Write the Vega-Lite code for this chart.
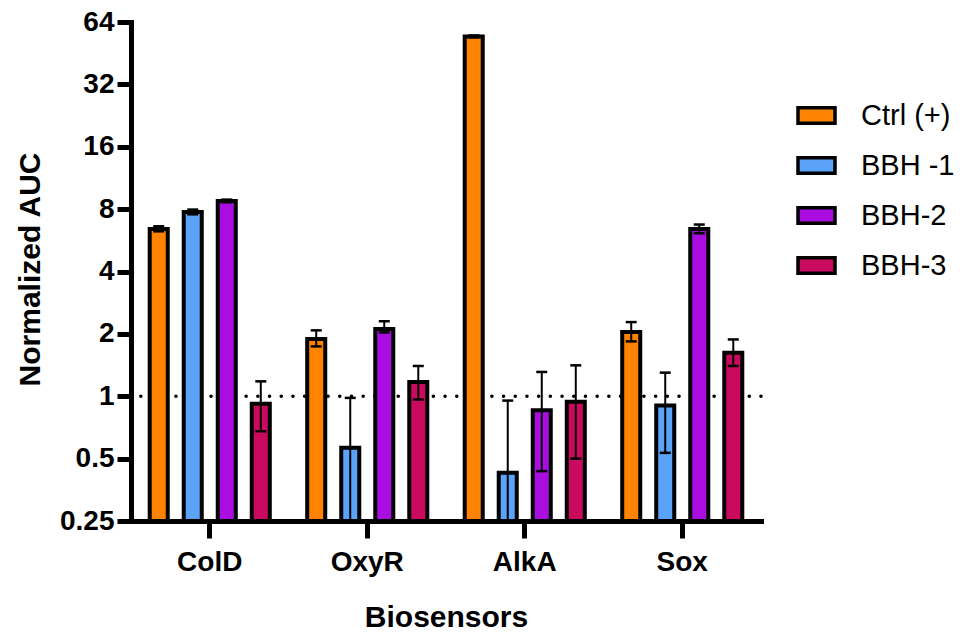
{
  "$schema": "https://vega.github.io/schema/vega-lite/v6.json",
  "width": 630,
  "height": 499,
  "autosize": "none",
  "padding": {"left": 131, "top": 22, "right": 213, "bottom": 113},
  "background": "white",
  "config": {"view": {"stroke": null}, "font": "Liberation Sans"},
  "datasets": {
    "auc": [
      {"sensor": "ColD", "group": "Ctrl (+)", "value": 6.42, "lo": 6.25, "hi": 6.61},
      {"sensor": "ColD", "group": "BBH -1", "value": 7.75, "lo": 7.55, "hi": 7.96},
      {"sensor": "ColD", "group": "BBH-2", "value": 8.76, "lo": 8.63, "hi": 8.89},
      {"sensor": "ColD", "group": "BBH-3", "value": 0.919, "lo": 0.678, "hi": 1.18},
      {"sensor": "OxyR", "group": "Ctrl (+)", "value": 1.89, "lo": 1.74, "hi": 2.08},
      {"sensor": "OxyR", "group": "BBH -1", "value": 0.564, "lo": 0.25, "hi": 0.982},
      {"sensor": "OxyR", "group": "BBH-2", "value": 2.11, "lo": 2.03, "hi": 2.30},
      {"sensor": "OxyR", "group": "BBH-3", "value": 1.17, "lo": 0.964, "hi": 1.40},
      {"sensor": "AlkA", "group": "Ctrl (+)", "value": 54.5, "lo": 54.0, "hi": 55.1},
      {"sensor": "AlkA", "group": "BBH -1", "value": 0.427, "lo": 0.25, "hi": 0.953},
      {"sensor": "AlkA", "group": "BBH-2", "value": 0.856, "lo": 0.435, "hi": 1.31},
      {"sensor": "AlkA", "group": "BBH-3", "value": 0.94, "lo": 0.50, "hi": 1.41},
      {"sensor": "Sox", "group": "Ctrl (+)", "value": 2.04, "lo": 1.84, "hi": 2.28},
      {"sensor": "Sox", "group": "BBH -1", "value": 0.902, "lo": 0.533, "hi": 1.30},
      {"sensor": "Sox", "group": "BBH-2", "value": 6.42, "lo": 6.12, "hi": 6.74},
      {"sensor": "Sox", "group": "BBH-3", "value": 1.62, "lo": 1.40, "hi": 1.88}
    ]
  },
  "layer": [
    {
      "data": {"values": [{}]},
      "mark": {"type": "rule", "strokeDash": [0.1, 11.6], "strokeCap": "round", "strokeWidth": 3.5, "color": "black"},
      "encoding": {
        "y": {"datum": 1, "type": "quantitative", "title": "Normalized AUC"}
      }
    },
    {
      "data": {"name": "auc"},
      "mark": {"type": "bar", "stroke": "black", "strokeWidth": 4},
      "encoding": {
        "x": {
          "field": "sensor", "type": "nominal", "sort": ["ColD", "OxyR", "AlkA", "Sox"],
          "title": "Biosensors",
          "scale": {"paddingInner": 0.136, "paddingOuter": 0.068},
          "axis": {
            "domainWidth": 5, "domainColor": "black", "domainCap": "square",
            "tickColor": "black", "tickWidth": 5, "tickSize": 17,
            "labelFontSize": 28, "labelFontWeight": "bold", "labelColor": "black", "labelPadding": 10, "labelAngle": 0,
            "labelFont": "Liberation Sans",
            "titleFontSize": 30, "titleFontWeight": "bold", "titleColor": "black", "titlePadding": 26,
            "titleFont": "Liberation Sans",
            "zindex": 1
          }
        },
        "xOffset": {
          "field": "group", "type": "nominal", "sort": ["Ctrl (+)", "BBH -1", "BBH-2", "BBH-3"],
          "scale": {"paddingInner": 0.47, "paddingOuter": 0.235}
        },
        "y": {
          "field": "value", "type": "quantitative", "title": "Normalized AUC",
          "scale": {"type": "log", "base": 2, "domain": [0.25, 64], "nice": false},
          "axis": {
            "values": [0.25, 0.5, 1, 2, 4, 8, 16, 32, 64], "format": "~g", "grid": false,
            "domainWidth": 5, "domainColor": "black", "domainCap": "square",
            "tickColor": "black", "tickWidth": 5, "tickSize": 14,
            "labelFontSize": 28, "labelFontWeight": "bold", "labelColor": "black", "labelPadding": 3,
            "labelFont": "Liberation Sans",
            "titleFontSize": 30, "titleFontWeight": "bold", "titleColor": "black",
            "titleFont": "Liberation Sans",
            "titleX": -92, "titleY": 247, "titleAngle": -90, "titleBaseline": "alphabetic", "titleAlign": "center",
            "zindex": 1
          }
        },
        "y2": {"datum": 0.25},
        "color": {
          "field": "group", "type": "nominal",
          "scale": {"domain": ["Ctrl (+)", "BBH -1", "BBH-2", "BBH-3"], "range": ["#FF8200", "#5AA3F8", "#AA0DE0", "#C90A5E"]},
          "legend": {
            "title": null, "orient": "none", "legendX": 665, "legendY": 73, "padding": 0,
            "symbolType": "M-1,-0.42H1V0.42H-1Z", "symbolSize": 1369,
            "symbolStrokeColor": "black", "symbolStrokeWidth": 3.5, "symbolOpacity": 1,
            "labelFontSize": 29, "labelFont": "Liberation Sans", "labelColor": "black",
            "labelOffset": 24, "rowPadding": 14
          }
        }
      }
    },
    {
      "data": {"name": "auc"},
      "mark": {"type": "rule", "strokeWidth": 2, "color": "black"},
      "encoding": {
        "x": {"field": "sensor", "type": "nominal", "sort": ["ColD", "OxyR", "AlkA", "Sox"], "title": "Biosensors"},
        "xOffset": {"field": "group", "type": "nominal", "sort": ["Ctrl (+)", "BBH -1", "BBH-2", "BBH-3"]},
        "y": {"field": "lo", "type": "quantitative", "title": "Normalized AUC"},
        "y2": {"field": "hi"}
      }
    },
    {
      "data": {"name": "auc"},
      "mark": {"type": "tick", "size": 11, "thickness": 2.5, "color": "black", "opacity": 1},
      "encoding": {
        "x": {"field": "sensor", "type": "nominal", "sort": ["ColD", "OxyR", "AlkA", "Sox"], "title": "Biosensors"},
        "xOffset": {"field": "group", "type": "nominal", "sort": ["Ctrl (+)", "BBH -1", "BBH-2", "BBH-3"]},
        "y": {"field": "hi", "type": "quantitative", "title": "Normalized AUC"}
      }
    },
    {
      "data": {"name": "auc"},
      "transform": [{"filter": "datum.lo > 0.26"}],
      "mark": {"type": "tick", "size": 11, "thickness": 2.5, "color": "black", "opacity": 1},
      "encoding": {
        "x": {"field": "sensor", "type": "nominal", "sort": ["ColD", "OxyR", "AlkA", "Sox"], "title": "Biosensors"},
        "xOffset": {"field": "group", "type": "nominal", "sort": ["Ctrl (+)", "BBH -1", "BBH-2", "BBH-3"]},
        "y": {"field": "lo", "type": "quantitative", "title": "Normalized AUC"}
      }
    }
  ]
}
